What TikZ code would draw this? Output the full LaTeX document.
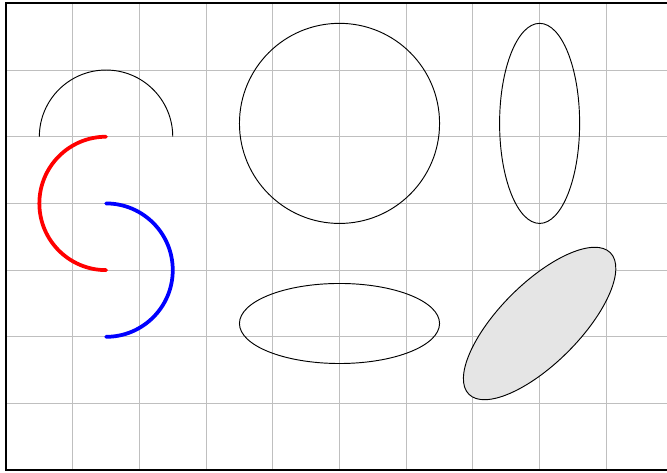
\documentclass[tikz,border=0pt]{standalone}
\begin{document}
\begin{tikzpicture}
  \useasboundingbox (-0.09,-0.03) rectangle (9.91,7.05);
  \draw[gray!50] (0,0) grid (10,7);
  \draw[thick] (0,0) rectangle (10,7);
  % arcs: half circle on top, then red and blue halves
  \draw (2.5,5) arc (0:180:1);
  \draw[ultra thick,line cap=round,red] (1.5,5) arc (90:270:1);
  \draw[ultra thick,line cap=round,blue] (1.5,4) arc (90:-90:1);
  % circle and ellipses
  \draw (5,5.2) circle (1.5);
  \draw (8,5.2) ellipse (0.6 and 1.5);
  \draw (5,2.2) ellipse (1.5 and 0.6);
  \filldraw[fill=gray!20,rotate around={45:(8,2.2)}] (8,2.2) ellipse (1.5 and 0.6);
\end{tikzpicture}
\end{document}
